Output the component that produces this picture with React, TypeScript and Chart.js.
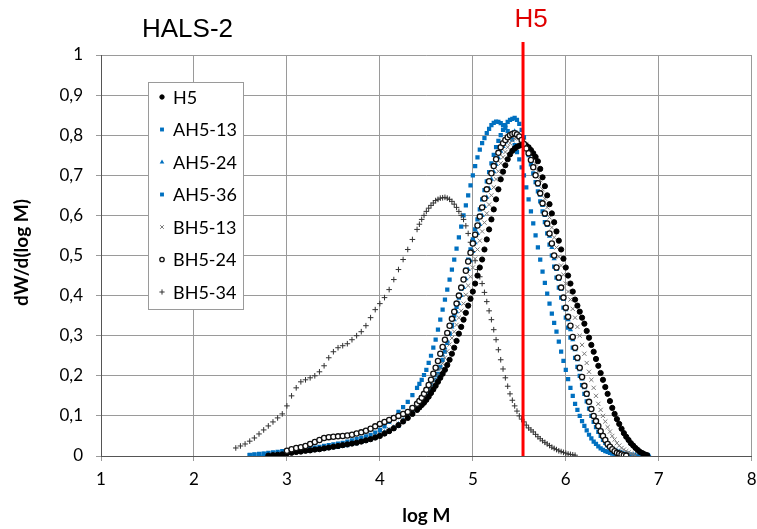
import React, { useEffect, useRef } from "react";
import { Chart, registerables } from "chart.js";
Chart.register(...registerables);

const _ = null;

// log M values at which the curves were read (coarser on the flat left tail)
const LOG_M = [
  2.45, 2.5, 2.55, 2.6, 2.65, 2.7, 2.75, 2.8, 2.85, 2.9,
  2.95, 3, 3.05, 3.1, 3.15, 3.2, 3.25, 3.3, 3.35, 3.4,
  3.45, 3.5, 3.55, 3.6, 3.65, 3.7, 3.75, 3.8, 3.85, 3.9,
  3.95, 4, 4.05, 4.1, 4.15, 4.2, 4.25, 4.3, 4.35,
  4.4, 4.425, 4.45, 4.475, 4.5, 4.525, 4.55, 4.575, 4.6, 4.625, 4.65, 4.675,
  4.7, 4.725, 4.75, 4.775, 4.8, 4.825, 4.85, 4.875, 4.9, 4.925, 4.95, 4.975,
  5, 5.025, 5.05, 5.075, 5.1, 5.125, 5.15, 5.175, 5.2, 5.225, 5.25, 5.275,
  5.3, 5.325, 5.35, 5.375, 5.4, 5.425, 5.45, 5.475, 5.5, 5.525, 5.55, 5.575,
  5.6, 5.625, 5.65, 5.675, 5.7, 5.725, 5.75, 5.775, 5.8, 5.825, 5.85, 5.875,
  5.9, 5.925, 5.95, 5.975, 6, 6.025, 6.05, 6.075, 6.1, 6.125, 6.15, 6.175,
  6.2, 6.225, 6.25, 6.275, 6.3, 6.325, 6.35, 6.375, 6.4, 6.425, 6.45, 6.475,
  6.5, 6.525, 6.55, 6.575, 6.6, 6.625, 6.65, 6.675, 6.7, 6.725, 6.75, 6.775,
  6.8, 6.825, 6.85, 6.875, 6.9,
];

const H5 = [
  _, _, _, _, _, _, _, 0.001, 0.002, 0.003,
  0.004, 0.006, 0.008, 0.01, 0.011, 0.013, 0.014, 0.016, 0.017, 0.019,
  0.021, 0.023, 0.025, 0.027, 0.029, 0.031, 0.033, 0.036, 0.039, 0.042,
  0.046, 0.05, 0.056, 0.062, 0.069, 0.077, 0.086, 0.095, 0.105,
  0.115, 0.121, 0.127, 0.133, 0.14, 0.148, 0.157, 0.166, 0.175, 0.185, 0.195, 0.205,
  0.215, 0.227, 0.24, 0.255, 0.27, 0.287, 0.305, 0.322, 0.34, 0.357, 0.375, 0.392,
  0.41, 0.43, 0.45, 0.47, 0.49, 0.515, 0.54, 0.565, 0.59, 0.615, 0.64, 0.665,
  0.69, 0.709, 0.725, 0.74, 0.752, 0.761, 0.767, 0.771, 0.774, 0.776, 0.777, 0.774,
  0.77, 0.763, 0.755, 0.746, 0.735, 0.716, 0.695, 0.673, 0.65, 0.628, 0.605, 0.583,
  0.56, 0.537, 0.515, 0.492, 0.47, 0.45, 0.43, 0.41, 0.39, 0.375, 0.36, 0.345,
  0.33, 0.312, 0.295, 0.277, 0.26, 0.242, 0.225, 0.207, 0.19, 0.172, 0.155, 0.137,
  0.12, 0.105, 0.092, 0.08, 0.068, 0.057, 0.048, 0.04, 0.032, 0.026, 0.02, 0.015,
  0.01, 0.007, 0.004, 0.002, _,
];

const AH5_13 = [
  _, _, _, 0.003, 0.004, 0.005, 0.006, 0.008, 0.009, 0.01,
  0.012, 0.013, 0.014, 0.016, 0.017, 0.018, 0.02, 0.021, 0.023, 0.025,
  0.027, 0.029, 0.031, 0.033, 0.036, 0.039, 0.042, 0.045, 0.049, 0.053,
  0.058, 0.065, 0.074, 0.085, 0.097, 0.11, 0.122, 0.135, 0.152,
  0.17, 0.18, 0.19, 0.202, 0.215, 0.232, 0.25, 0.27, 0.29, 0.315, 0.34, 0.365,
  0.39, 0.415, 0.44, 0.465, 0.49, 0.517, 0.545, 0.572, 0.6, 0.625, 0.65, 0.675,
  0.7, 0.723, 0.745, 0.764, 0.78, 0.793, 0.805, 0.816, 0.825, 0.831, 0.834, 0.833,
  0.83, 0.825, 0.818, 0.81, 0.8, 0.789, 0.775, 0.758, 0.74, 0.72, 0.7, 0.67,
  0.64, 0.61, 0.58, 0.55, 0.52, 0.49, 0.46, 0.432, 0.405, 0.38, 0.355, 0.332,
  0.31, 0.285, 0.26, 0.237, 0.215, 0.192, 0.17, 0.15, 0.13, 0.115, 0.1, 0.087,
  0.075, 0.064, 0.053, 0.044, 0.036, 0.03, 0.024, 0.019, 0.015, 0.012, 0.01, 0.008,
  0.006, 0.004, 0.003, 0.002, 0.001, _, _, _, _, _, _, _,
  _, _, _, _, _,
];

const AH5_24 = [
  _, _, _, _, _, 0.003, 0.004, 0.005, 0.006, 0.007,
  0.008, 0.01, 0.011, 0.012, 0.013, 0.014, 0.016, 0.017, 0.019, 0.021,
  0.022, 0.024, 0.026, 0.028, 0.03, 0.032, 0.035, 0.038, 0.041, 0.045,
  0.05, 0.055, 0.06, 0.065, 0.072, 0.08, 0.09, 0.1, 0.112,
  0.125, 0.132, 0.14, 0.147, 0.155, 0.166, 0.177, 0.188, 0.2, 0.217, 0.235, 0.252,
  0.27, 0.287, 0.305, 0.322, 0.34, 0.36, 0.38, 0.4, 0.42, 0.442, 0.465, 0.487,
  0.51, 0.532, 0.555, 0.577, 0.6, 0.622, 0.645, 0.667, 0.69, 0.709, 0.727, 0.744,
  0.76, 0.772, 0.783, 0.792, 0.8, 0.806, 0.81, 0.806, 0.8, 0.791, 0.78, 0.768,
  0.755, 0.738, 0.72, 0.698, 0.675, 0.65, 0.625, 0.6, 0.575, 0.548, 0.52, 0.492,
  0.465, 0.44, 0.415, 0.39, 0.365, 0.34, 0.315, 0.29, 0.265, 0.24, 0.215, 0.192,
  0.17, 0.151, 0.133, 0.116, 0.1, 0.086, 0.073, 0.061, 0.05, 0.041, 0.033, 0.026,
  0.02, 0.016, 0.013, 0.011, 0.009, 0.007, 0.006, 0.005, 0.004, 0.0035, 0.003, 0.0025,
  0.002, 0.0015, 0.001, 0.001, 0.001,
];

const AH5_36 = [
  _, _, _, 0.002, 0.003, 0.004, 0.005, 0.005, 0.006, 0.007,
  0.008, 0.009, 0.01, 0.011, 0.012, 0.013, 0.014, 0.015, 0.017, 0.018,
  0.02, 0.022, 0.023, 0.025, 0.027, 0.03, 0.032, 0.035, 0.038, 0.042,
  0.046, 0.05, 0.056, 0.062, 0.068, 0.075, 0.085, 0.095, 0.105,
  0.115, 0.122, 0.13, 0.137, 0.145, 0.155, 0.165, 0.177, 0.19, 0.205, 0.222, 0.24,
  0.26, 0.282, 0.305, 0.327, 0.35, 0.372, 0.395, 0.417, 0.44, 0.465, 0.49, 0.515,
  0.54, 0.565, 0.59, 0.615, 0.64, 0.663, 0.685, 0.708, 0.73, 0.751, 0.77, 0.786,
  0.8, 0.813, 0.825, 0.833, 0.838, 0.841, 0.843, 0.838, 0.828, 0.813, 0.795, 0.773,
  0.75, 0.727, 0.705, 0.683, 0.66, 0.635, 0.61, 0.583, 0.555, 0.527, 0.5, 0.472,
  0.445, 0.42, 0.395, 0.37, 0.345, 0.32, 0.295, 0.27, 0.245, 0.222, 0.2, 0.177,
  0.155, 0.136, 0.118, 0.1, 0.085, 0.072, 0.06, 0.05, 0.04, 0.033, 0.026, 0.02,
  0.015, 0.012, 0.009, 0.007, 0.005, 0.004, 0.003, 0.0025, 0.002, _, _, _,
  _, _, _, _, _,
];

const BH5_13 = [
  _, _, _, _, _, _, _, _, 0.004, 0.005,
  0.006, 0.008, 0.009, 0.011, 0.012, 0.014, 0.015, 0.017, 0.018, 0.02,
  0.022, 0.024, 0.026, 0.028, 0.03, 0.033, 0.035, 0.038, 0.041, 0.045,
  0.05, 0.055, 0.061, 0.067, 0.073, 0.08, 0.09, 0.1, 0.11,
  0.12, 0.127, 0.135, 0.142, 0.15, 0.16, 0.17, 0.18, 0.19, 0.203, 0.217, 0.231,
  0.245, 0.261, 0.278, 0.294, 0.31, 0.327, 0.345, 0.362, 0.38, 0.402, 0.425, 0.447,
  0.47, 0.492, 0.515, 0.537, 0.56, 0.582, 0.605, 0.627, 0.65, 0.67, 0.69, 0.71,
  0.73, 0.745, 0.758, 0.77, 0.78, 0.787, 0.792, 0.794, 0.793, 0.79, 0.785, 0.778,
  0.77, 0.758, 0.745, 0.728, 0.71, 0.688, 0.665, 0.642, 0.62, 0.595, 0.57, 0.545,
  0.52, 0.497, 0.475, 0.452, 0.43, 0.41, 0.39, 0.367, 0.345, 0.322, 0.3, 0.277,
  0.255, 0.232, 0.21, 0.19, 0.17, 0.15, 0.13, 0.115, 0.1, 0.086, 0.072, 0.061,
  0.05, 0.041, 0.032, 0.026, 0.02, 0.016, 0.012, 0.009, 0.006, 0.004, 0.002, _,
  _, _, _, _, _,
];

const BH5_24 = [
  _, _, _, _, _, _, _, _, _, _,
  _, 0.013, 0.017, 0.02, 0.022, 0.025, 0.03, 0.035, 0.04, 0.045,
  0.047, 0.048, 0.049, 0.05, 0.051, 0.053, 0.056, 0.059, 0.063, 0.068,
  0.074, 0.08, 0.085, 0.09, 0.095, 0.1, 0.105, 0.11, 0.12,
  0.13, 0.137, 0.145, 0.155, 0.165, 0.177, 0.19, 0.205, 0.22, 0.237, 0.255, 0.272,
  0.29, 0.307, 0.325, 0.342, 0.36, 0.38, 0.4, 0.42, 0.44, 0.462, 0.485, 0.507,
  0.53, 0.552, 0.575, 0.597, 0.62, 0.642, 0.665, 0.685, 0.705, 0.723, 0.74, 0.756,
  0.77, 0.78, 0.788, 0.795, 0.8, 0.803, 0.805, 0.802, 0.797, 0.788, 0.778, 0.767,
  0.755, 0.738, 0.72, 0.7, 0.68, 0.655, 0.63, 0.605, 0.58, 0.555, 0.53, 0.5,
  0.47, 0.445, 0.42, 0.395, 0.37, 0.347, 0.325, 0.297, 0.27, 0.245, 0.22, 0.197,
  0.175, 0.155, 0.135, 0.117, 0.1, 0.087, 0.075, 0.062, 0.05, 0.04, 0.03, 0.023,
  0.017, 0.012, 0.008, 0.006, 0.004, 0.002, 0.001, _, _, _, _, _,
  _, _, _, _, _,
];

const BH5_34 = [
  0.02, 0.025, 0.03, 0.037, 0.045, 0.055, 0.065, 0.075, 0.085, 0.095,
  0.105, 0.125, 0.15, 0.17, 0.185, 0.19, 0.195, 0.2, 0.21, 0.225,
  0.245, 0.26, 0.27, 0.275, 0.28, 0.29, 0.3, 0.31, 0.325, 0.345,
  0.365, 0.38, 0.395, 0.415, 0.44, 0.465, 0.49, 0.515, 0.54,
  0.565, 0.578, 0.59, 0.6, 0.61, 0.618, 0.625, 0.631, 0.637, 0.64, 0.643, 0.644,
  0.645, 0.643, 0.64, 0.635, 0.628, 0.62, 0.61, 0.6, 0.59, 0.574, 0.555, 0.533,
  0.51, 0.487, 0.465, 0.447, 0.43, 0.408, 0.385, 0.362, 0.34, 0.315, 0.29, 0.265,
  0.24, 0.217, 0.195, 0.174, 0.155, 0.139, 0.125, 0.112, 0.1, 0.092, 0.085, 0.077,
  0.07, 0.065, 0.06, 0.054, 0.048, 0.043, 0.038, 0.034, 0.03, 0.026, 0.022, 0.019,
  0.016, 0.013, 0.011, 0.009, 0.007, 0.005, 0.004, 0.003, 0.002, _, _, _,
  _, _, _, _, _, _, _, _, _, _, _, _,
  _, _, _, _, _, _, _, _, _, _, _, _,
  _, _, _, _, _,
];

const SERIES_NAMES = ["H5", "AH5-13", "AH5-24", "AH5-36", "BH5-13", "BH5-24", "BH5-34"];
const SERIES_VALUES = [H5, AH5_13, AH5_24, AH5_36, BH5_13, BH5_24, BH5_34];
const CHART_TITLE = "HALS-2";
const MARKER_LABEL = "H5";
const MARKER_LOG_M = 5.54;
const X_TITLE = "log M";
const Y_TITLE = "dW/d(log M)";

const BLUE = "#0070C0";
const STYLES = [
  { pointStyle: "circle", radius: 2.6, fill: "#000", stroke: "#000", bw: 1, order: 1, lr: 2.2 },
  { pointStyle: "rect", radius: 3.0, fill: BLUE, stroke: BLUE, bw: 0, order: 6, lr: 2.6 },
  { pointStyle: "triangle", radius: 3.0, fill: BLUE, stroke: BLUE, bw: 0, order: 5, lr: 2.6 },
  { pointStyle: "rect", radius: 3.0, fill: BLUE, stroke: BLUE, bw: 0, order: 4, lr: 2.6 },
  { pointStyle: "crossRot", radius: 3.0, fill: "#7a7a7a", stroke: "#7a7a7a", bw: 1, order: 2, lr: 2.6 },
  { pointStyle: "circle", radius: 2.6, fill: "#fff", stroke: "#111", bw: 1.3, order: 0, lr: 2.2 },
  { pointStyle: "cross", radius: 2.8, fill: "#333", stroke: "#333", bw: 1, order: 3, lr: 2.6 },
];

function toPoints(ys: (number | null)[]) {
  const pts: { x: number; y: number }[] = [];
  LOG_M.forEach((x, i) => {
    const y = ys[i];
    if (y !== null && y !== undefined) pts.push({ x, y });
  });
  return pts;
}

function drawMarker(ctx: CanvasRenderingContext2D, style: string, x: number, y: number, r: number, fill: string, stroke: string, bw: number) {
  ctx.save();
  ctx.fillStyle = fill;
  ctx.strokeStyle = stroke;
  ctx.lineWidth = bw || 1;
  ctx.beginPath();
  if (style === "circle") {
    ctx.arc(x, y, r, 0, Math.PI * 2);
    ctx.fill();
    if (bw) ctx.stroke();
  } else if (style === "rect") {
    ctx.rect(x - r * 0.75, y - r * 0.75, r * 1.5, r * 1.5);
    ctx.fill();
  } else if (style === "triangle") {
    ctx.moveTo(x, y - r);
    ctx.lineTo(x + r * 0.9, y + r * 0.6);
    ctx.lineTo(x - r * 0.9, y + r * 0.6);
    ctx.closePath();
    ctx.fill();
  } else if (style === "crossRot") {
    const d = r * 0.7;
    ctx.moveTo(x - d, y - d); ctx.lineTo(x + d, y + d);
    ctx.moveTo(x + d, y - d); ctx.lineTo(x - d, y + d);
    ctx.stroke();
  } else if (style === "cross") {
    ctx.moveTo(x - r, y); ctx.lineTo(x + r, y);
    ctx.moveTo(x, y - r); ctx.lineTo(x, y + r);
    ctx.stroke();
  }
  ctx.restore();
}

const overlayPlugin = {
  id: "overlay",
  afterDatasetsDraw(chart: any) {
    const { ctx, chartArea, scales } = chart;
    const xPix = scales.x.getPixelForValue(MARKER_LOG_M);
    ctx.save();
    ctx.strokeStyle = "#ff0000";
    ctx.lineWidth = 3;
    ctx.beginPath();
    ctx.moveTo(xPix, chartArea.top - 13);
    ctx.lineTo(xPix, chartArea.bottom);
    ctx.stroke();
    ctx.restore();
  },
  afterDraw(chart: any) {
    const { ctx, chartArea, scales } = chart;
    const xPix = scales.x.getPixelForValue(MARKER_LOG_M);
    ctx.save();
    ctx.fillStyle = "#e00000";
    ctx.font = "26px 'Liberation Sans', Arial, sans-serif";
    ctx.textAlign = "center";
    ctx.textBaseline = "middle";
    ctx.fillText(MARKER_LABEL, xPix + 8, chartArea.top - 35);
    ctx.fillStyle = "#000";
    ctx.textAlign = "left";
    ctx.font = "26px 'Liberation Sans', Arial, sans-serif";
    ctx.fillText(CHART_TITLE, chartArea.left + 41, chartArea.top - 25);
    ctx.font = "bold 19px Lato, sans-serif";
    ctx.textAlign = "center";
    ctx.fillText(X_TITLE, (chartArea.left + chartArea.right) / 2, 516);
    ctx.save();
    ctx.translate(22, (chartArea.top + chartArea.bottom) / 2 - 3);
    ctx.rotate(-Math.PI / 2);
    ctx.fillText(Y_TITLE, 0, 0);
    ctx.restore();

    const lx = chartArea.left + 47;
    const ly = chartArea.top + 27;
    const lw = 95;
    const lh = 227;
    ctx.fillStyle = "#fff";
    ctx.fillRect(lx, ly, lw, lh);
    ctx.strokeStyle = "#9a9a9a";
    ctx.lineWidth = 1;
    ctx.strokeRect(lx + 0.5, ly + 0.5, lw, lh);
    chart.data.datasets.forEach((ds: any, i: number) => {
      const st = STYLES[i];
      const cy = ly + 15 + i * 32.5;
      drawMarker(ctx, st.pointStyle, lx + 14, cy, st.lr, st.fill, st.stroke, st.bw);
      ctx.fillStyle = "#000";
      ctx.font = "18px Lato, sans-serif";
      ctx.textAlign = "left";
      ctx.textBaseline = "middle";
      ctx.fillText(ds.label, lx + 25, cy + 1);
    });
    ctx.restore();
  },
};

export default function App() {
  const ref = useRef<HTMLCanvasElement>(null);
  useEffect(() => {
    const datasets = SERIES_NAMES.map((name, i) => {
      const st = STYLES[i];
      return {
        label: name,
        data: toPoints(SERIES_VALUES[i]),
        showLine: false,
        pointStyle: st.pointStyle,
        pointRadius: st.radius,
        pointBackgroundColor: st.fill,
        pointBorderColor: st.stroke,
        pointBorderWidth: st.bw,
        backgroundColor: st.fill,
        borderColor: st.stroke,
        order: st.order,
      };
    });
    const chart = new Chart(ref.current as HTMLCanvasElement, {
      type: "scatter",
      data: { datasets } as any,
      options: {
        animation: false,
        responsive: true,
        maintainAspectRatio: false,
        layout: { padding: { top: 55, right: 5, left: 0, bottom: 0 } },
        plugins: { legend: { display: false }, tooltip: { enabled: false } },
        scales: {
          x: {
            type: "linear",
            min: 1,
            max: 8,
            afterFit: (s: any) => { s.height = 73; s.paddingLeft = 0; s.paddingRight = 0; },
            ticks: { stepSize: 1, color: "#000", padding: 8, font: { family: "Lato", size: 17 } },
            grid: { color: "#9a9a9a", tickLength: 5, lineWidth: 1 },
            border: { color: "#555", width: 1 },
          },
          y: {
            min: 0,
            max: 1,
            afterFit: (s: any) => { s.width = 101; s.paddingTop = 0; s.paddingBottom = 0; },
            ticks: {
              stepSize: 0.1,
              color: "#000",
              padding: 13,
              font: { family: "Lato", size: 17 },
              callback: (v: any) => {
                const n = Number(v);
                if (Math.abs(n) < 1e-9) return "0";
                if (Math.abs(n - 1) < 1e-9) return "1";
                return n.toFixed(1).replace(".", ",");
              },
            },
            grid: { color: "#9a9a9a", tickLength: 5, lineWidth: 1 },
            border: { color: "#555", width: 1 },
          },
        },
      },
      plugins: [overlayPlugin],
    });
    return () => chart.destroy();
  }, []);
  return (
    <div style={{ position: "absolute", left: 0, top: 0, width: 757, height: 529, background: "#fff" }}>
      <canvas ref={ref} />
    </div>
  );
}
